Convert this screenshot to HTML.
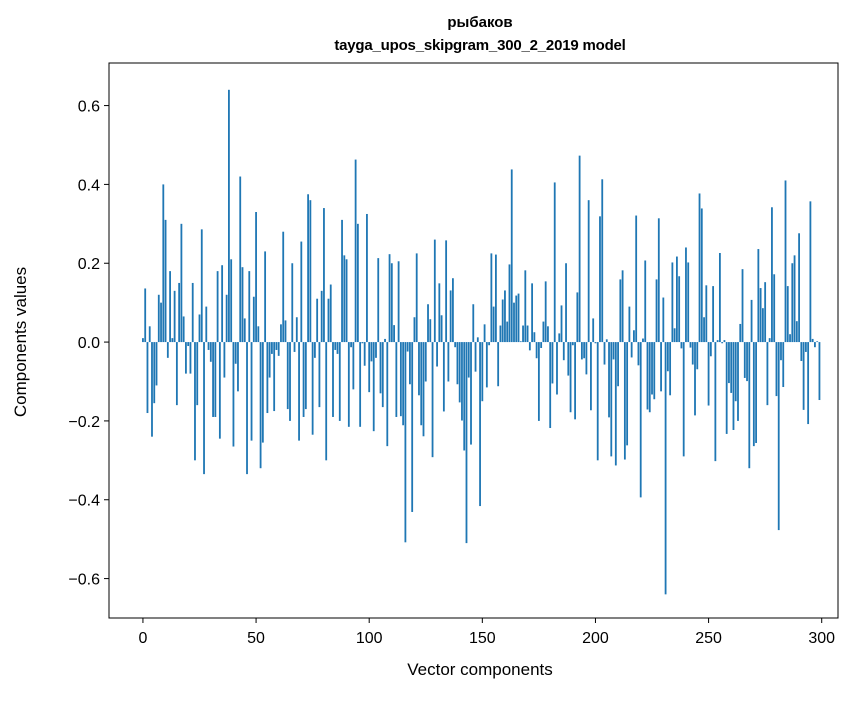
<!DOCTYPE html>
<html><head><meta charset="utf-8"><style>
body{margin:0;background:#fff}
text{font-family:"Liberation Sans","DejaVu Sans",sans-serif;fill:#000}
</style></head><body>
<svg id="chart" width="867" height="696" xmlns="http://www.w3.org/2000/svg">
<rect width="867" height="696" fill="#fff"/>
<text x="480" y="27" font-size="15" font-weight="bold" text-anchor="middle">рыбаков</text>
<text x="480" y="50" font-size="15" font-weight="bold" text-anchor="middle" letter-spacing="-0.2">tayga_upos_skipgram_300_2_2019 model</text>
<g id="bars"></g>
<g id="axes"></g>
<text x="480" y="675" font-size="17" text-anchor="middle">Vector components</text>
<text x="26" y="342" font-size="17" text-anchor="middle" transform="rotate(-90 26 342)">Components values</text>
</svg>
<script>
const values = [
0.01,0.136,-0.18,0.04,-0.24,-0.155,-0.11,0.12,0.10,0.40,
0.31,-0.04,0.18,0.01,0.13,-0.16,0.15,0.30,0.065,-0.08,
-0.01,-0.08,0.15,-0.30,-0.16,0.07,0.286,-0.335,0.09,-0.02,
-0.05,-0.19,-0.19,0.18,-0.245,0.195,-0.09,0.12,0.64,0.21,
-0.265,-0.055,-0.125,0.42,0.19,0.06,-0.335,0.18,-0.25,0.115,
0.33,0.04,-0.32,-0.255,0.23,-0.18,-0.09,-0.03,-0.175,-0.02,
-0.035,0.045,0.28,0.055,-0.17,-0.2,0.2,-0.025,0.063,-0.25,
0.255,-0.19,-0.17,0.375,0.36,-0.235,-0.04,0.11,-0.165,0.13,
0.34,-0.30,0.11,0.146,-0.19,-0.02,-0.03,-0.2,0.31,0.22,
0.21,-0.215,-0.013,-0.12,0.463,0.30,-0.215,-0.003,-0.06,0.325,
-0.127,-0.049,-0.226,-0.04,0.213,-0.13,-0.165,0.008,-0.264,0.223,
0.2,0.043,-0.19,0.205,-0.188,-0.211,-0.508,-0.024,-0.107,-0.431,
0.063,0.225,-0.135,-0.211,-0.239,-0.1,0.096,0.058,-0.292,0.26,
-0.062,0.149,0.068,-0.176,0.258,-0.1,0.131,0.162,-0.013,-0.107,
-0.153,-0.199,-0.275,-0.51,-0.09,-0.26,0.096,-0.075,0.012,-0.416,
-0.15,0.045,-0.115,-0.008,0.225,0.09,0.222,-0.112,0.042,0.108,
0.131,0.052,0.197,0.438,0.1,0.118,0.123,0.002,0.042,0.182,
0.042,-0.021,0.149,0.025,-0.041,-0.2,-0.015,0.052,0.154,0.04,
-0.218,-0.105,0.405,-0.133,0.022,0.093,-0.046,0.2,-0.085,-0.178,
-0.008,-0.196,0.126,0.473,-0.044,-0.041,-0.082,0.36,-0.173,0.06,
-0.003,-0.3,0.319,0.413,-0.057,0.007,-0.191,-0.29,-0.044,-0.313,
-0.112,0.159,0.182,-0.298,-0.262,0.09,-0.039,0.03,0.321,-0.059,
-0.394,0.009,0.207,-0.171,-0.178,-0.133,-0.145,0.159,0.314,-0.125,
0.113,-0.64,-0.074,-0.135,0.202,0.035,0.217,0.167,-0.016,-0.29,
0.24,0.202,-0.014,-0.057,-0.186,-0.069,0.377,0.339,0.063,0.144,
-0.161,-0.036,0.142,-0.302,0.005,0.226,-0.003,0.005,-0.233,-0.104,
-0.129,-0.223,-0.15,-0.2,0.046,0.185,-0.091,-0.099,-0.32,0.107,
-0.264,-0.256,0.236,0.137,0.086,0.152,-0.16,0.01,0.342,0.172,
-0.137,-0.477,-0.046,-0.114,0.41,0.142,0.02,0.2,0.22,0.053,
0.276,-0.048,-0.172,-0.025,-0.208,0.357,0.008,-0.013,0.002,-0.147
];
const xTicks = [0,50,100,150,200,250,300];
const yTicks = [-0.6,-0.4,-0.2,0.0,0.2,0.4,0.6];
const yTickLabels = ["−0.6","−0.4","−0.2","0.0","0.2","0.4","0.6"];

const L=109,R=838,T=63,B=618;
const xmin=-15.0,xmax=307.2,ymin=-0.700,ymax=0.708;
function xs(v){return L+(v-xmin)/(xmax-xmin)*(R-L);}
function ys(v){return B-(v-ymin)/(ymax-ymin)*(B-T);}
const NS="http://www.w3.org/2000/svg";
const bars=document.getElementById('bars');
const bw=0.8*(xs(1)-xs(0));
values.forEach((v,i)=>{
  const r=document.createElementNS(NS,'rect');
  const y0=ys(0),y1=ys(v);
  r.setAttribute('x',xs(i)-bw/2);
  r.setAttribute('y',Math.min(y0,y1));
  r.setAttribute('width',bw);
  r.setAttribute('height',Math.max(Math.abs(y1-y0),0.5));
  r.setAttribute('fill','#1f77b4');
  
  
  bars.appendChild(r);
});
const axes=document.getElementById('axes');
const frame=document.createElementNS(NS,'rect');
frame.setAttribute('x',L);frame.setAttribute('y',T);
frame.setAttribute('width',R-L);frame.setAttribute('height',B-T);
frame.setAttribute('fill','none');frame.setAttribute('stroke','#000');frame.setAttribute('stroke-width','1');


axes.appendChild(frame);
xTicks.forEach(t=>{
  const x=xs(t);
  const l=document.createElementNS(NS,'line');
  l.setAttribute('x1',x);l.setAttribute('x2',x);l.setAttribute('y1',B);l.setAttribute('y2',B+5);
  l.setAttribute('stroke','#000');
  
  
  axes.appendChild(l);
  const tx=document.createElementNS(NS,'text');
  tx.setAttribute('x',x);tx.setAttribute('y',B+25);tx.setAttribute('font-size','16');tx.setAttribute('text-anchor','middle');
  tx.textContent=t;
  
  
  axes.appendChild(tx);
});
yTicks.forEach((t,i)=>{
  const y=ys(t);
  const l=document.createElementNS(NS,'line');
  l.setAttribute('x1',L-5);l.setAttribute('x2',L);l.setAttribute('y1',y);l.setAttribute('y2',y);
  l.setAttribute('stroke','#000');
  
  
  axes.appendChild(l);
  const tx=document.createElementNS(NS,'text');
  tx.setAttribute('x',L-9);tx.setAttribute('y',y+6);tx.setAttribute('font-size','16');tx.setAttribute('text-anchor','end');
  tx.textContent=yTickLabels[i];
  
  
  axes.appendChild(tx);
});
</script>
</body></html>
